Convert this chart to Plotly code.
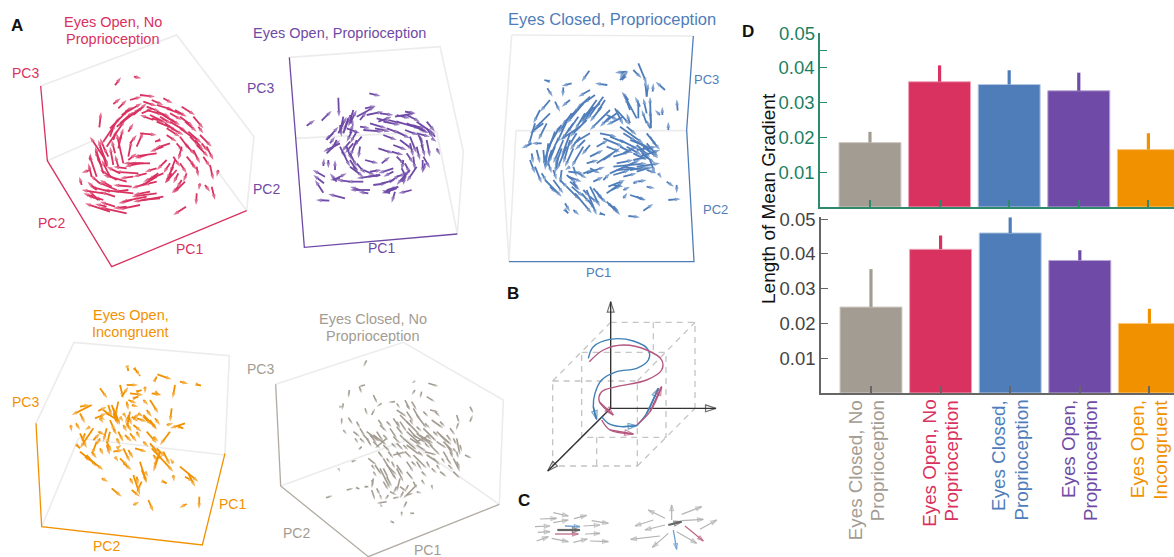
import plotly.graph_objects as go

W, H = 1174, 557
RED, PURPLE, BLUE, ORANGE, GRAY = "#d93160", "#6f4aa6", "#4f7dba", "#f29100", "#a39c92"
FONT = "Liberation Sans"

# Panel D values
categories = ["Eyes Closed, No<br>Proprioception", "Eyes Open, No<br>Proprioception",
              "Eyes Closed,<br>Proprioception", "Eyes Open,<br>Proprioception",
              "Eyes Open,<br>Incongruent"]
cat_colors = [GRAY, RED, BLUE, PURPLE, ORANGE]
edge_colors = ["#cfcac3", "#eea3b8", "#b4c8e2", "#b9a8d6", "#f9c880"]
top_means = [0.0185, 0.0360, 0.0352, 0.0334, 0.0165]
top_upper = [0.0216, 0.0407, 0.0393, 0.0386, 0.0212]
bot_means = [0.0247, 0.0413, 0.0460, 0.0381, 0.0200]
bot_upper = [0.0356, 0.0453, 0.0505, 0.0410, 0.0242]
top_ticks = [0.01, 0.02, 0.03, 0.04, 0.045]
top_labels = ["0.01", "0.02", "0.03", "0.04", ""]
bot_ticks = [0.01, 0.02, 0.03, 0.04, 0.05]
bot_labels = ["0.01", "0.02", "0.03", "0.04", "0.05"]

# Panel A: arrows as (tail x, tail y, head x, head y), in each panel's own units
red_arrows = [
 (345,256,363,232),(402,230,424,235),(298,382,303,336),(340,312,362,295),(355,325,380,300),(390,300,425,290),
 (420,285,465,290),(490,295,518,310),(430,305,470,318),(365,345,425,310),(330,385,385,330),(310,425,360,350),
 (320,440,375,360),(350,380,420,325),(380,355,432,320),(440,330,490,345),(470,315,520,330),(500,325,550,345),
 (545,320,585,345),(450,345,500,370),(490,345,540,375),(510,365,560,395),(470,365,520,385),(540,350,580,380),
 (580,350,610,385),(540,385,590,420),(565,395,605,430),(600,405,635,440),(590,435,625,470),(540,410,570,450),
 (620,440,640,480),(610,470,630,500),(580,450,600,490),(545,440,535,480),(520,470,540,500),(630,495,640,540),
 (655,510,650,530),(635,560,645,600),(615,555,630,575),(600,550,596,570),(590,580,588,615),(558,620,520,645),
 (555,545,520,580),(530,510,495,550),(525,480,510,520),(500,480,470,510),(490,590,400,605),(470,530,420,560),
 (490,520,430,545),(470,580,395,590),(440,590,365,605),(420,615,355,628),(380,640,300,622),(330,635,255,610),
 (310,580,245,570),(350,570,290,545),(380,545,310,525),(415,520,345,515),(450,490,390,490),(510,430,465,445),
 (470,460,400,470),(295,600,265,570),(245,555,238,530),(270,510,245,518),(290,530,268,465),(310,520,285,440),
 (320,500,295,420),(340,495,330,440),(310,470,270,410),(370,490,350,400),(355,445,365,400),(385,470,395,420),
 (410,440,430,395),(420,400,470,405),(385,480,410,460),(430,490,370,490),(330,575,270,560),(400,580,310,570),
 (460,360,420,345),(480,340,530,370),(500,385,540,410),(350,540,300,510),(330,530,305,480),(300,440,325,500),
 (360,370,400,335),(375,335,400,320),(400,345,440,310),(425,340,460,325),(455,300,490,315),(440,320,480,335),
 (470,335,510,350),(510,340,545,360),(525,330,560,350),(480,350,515,372),(515,385,550,405),(495,370,530,395),
 (555,365,590,395),(570,410,600,440),(595,380,610,400),(585,420,610,450),(555,430,585,465),(605,430,625,455),
 (560,470,585,500),(540,490,560,520),(575,490,590,510),(515,520,495,550),(560,520,550,545),(545,540,530,565),
 (535,560,515,580),(510,490,490,520),(480,595,420,600),(450,575,400,585),(440,550,395,565),(470,545,430,555),
 (395,600,355,610),(380,620,340,625),(345,620,300,605),(320,620,285,612),(300,600,260,585),(345,590,300,575),
 (335,560,300,540),(395,560,340,555),(360,520,320,500),(380,505,340,500),(420,490,375,500),(300,550,270,525),
 (290,570,262,545),(270,480,272,460),(275,530,265,490),(300,490,285,450),(315,450,300,415),(345,460,335,420),
 (360,420,370,385),(390,430,410,405),(355,500,345,465),(490,440,450,455),(520,500,500,540),(475,520,445,540),
 (440,465,405,475),(470,505,435,515),(305,500,290,465),(325,470,310,440),(340,420,350,390),(330,410,345,370),
 (385,395,400,370),(455,355,490,365),(500,405,530,425),(530,430,550,455),(480,420,465,425),(535,520,520,550),
 (590,500,595,530),(440,520,400,530),(400,530,360,535),(385,570,340,575),(310,600,280,590),(280,590,250,580),
]
purple_arrows = [
 (358,280,392,288),(265,293,267,350),(215,362,245,332),(170,377,195,360),(285,595,235,582),(238,602,198,600),
 (220,578,195,540),(222,550,190,525),(225,530,188,510),(235,480,235,505),(220,498,222,475),(255,510,255,480),
 (260,545,240,520),(250,540,290,520),(230,460,270,420),(230,420,265,380),(270,430,220,455),(265,400,290,350),
 (280,400,300,345),(300,370,320,330),(320,350,375,320),(345,325,378,318),(350,345,400,335),(390,340,430,345),
 (435,350,495,340),(465,335,497,340),(440,365,510,385),(400,365,450,375),(470,370,530,395),(500,365,550,400),
 (530,365,555,395),(555,410,540,390),(545,415,560,425),(560,445,570,465),(530,420,540,470),(510,410,520,450),
 (480,410,500,460),(450,420,490,450),(520,470,540,505),(518,480,518,520),(490,470,495,510),(465,490,480,520),
 (500,500,470,545),(470,520,440,555),(445,560,400,580),(435,575,425,608),(485,570,445,580),(440,565,395,580),
 (360,570,300,570),(355,580,325,575),(340,545,290,545),(390,525,320,535),(430,505,385,520),(300,480,325,520),
 (270,440,300,500),(300,500,340,530),(310,430,285,460),(320,420,300,470),(330,440,325,475),(345,480,385,490),
 (385,445,430,460),(400,405,440,420),(430,435,470,450),(340,390,400,395),(360,370,410,385),(290,385,330,400),
 (465,525,460,555),(415,575,440,560),(280,350,270,400),(310,330,295,380),(480,375,525,385),(430,515,400,530),
 (440,345,480,355),(470,345,510,365),(490,375,525,395),(510,385,535,400),(415,360,455,370),(380,355,420,365),
 (300,345,310,380),(295,355,280,395),(270,375,275,410),(305,395,290,425),(260,420,245,450),(250,400,225,420),
 (300,425,275,455),(320,395,300,430),(335,410,310,440),(290,440,305,480),(300,460,320,500),(320,490,345,520),
 (340,510,375,525),(355,530,395,525),(440,470,465,495),(470,460,490,490),(455,505,470,535),(440,530,470,520),
 (460,480,455,510),(480,510,460,530),(420,545,450,525),(410,570,445,560),(420,580,395,570),(300,545,260,540),
 (330,570,300,560),(270,535,240,540),(530,385,550,415),(515,435,525,470),(500,440,510,480),(525,490,520,515),
 (480,430,490,470),(425,455,460,465),(395,490,420,470),(385,365,425,350),(330,380,360,385),(375,385,420,395),
 (410,385,450,400),(440,395,480,415),(465,390,505,405),(505,405,520,430),(330,360,350,335),(275,455,290,470),
 (310,500,325,510),(360,515,395,510),(395,550,435,540),(370,555,410,550),(455,545,470,525),(500,400,540,410),
 (240,430,255,410),(300,400,310,370),
]
blue_arrows = [
 (178,244,163,240),(172,265,188,290),(220,262,218,290),(245,250,215,258),(298,212,275,245),(352,255,315,250),
 (410,215,375,218),(390,240,415,212),(430,210,455,235),(445,190,470,250),(470,290,465,240),(488,275,490,250),
 (525,270,497,245),(563,332,560,298),(535,390,535,365),(517,345,517,320),(483,385,480,290),(445,355,445,300),
 (440,355,400,280),(180,300,150,335),(195,305,210,335),(240,300,215,320),(300,270,265,290),(180,340,130,390),
 (160,370,120,400),(135,370,115,440),(125,430,95,445),(155,430,125,430),(210,380,170,450),(195,395,160,490),
 (175,430,165,510),(220,420,190,490),(245,340,205,400),(280,310,230,370),(300,290,250,340),(320,300,270,370),
 (340,290,290,360),(360,330,300,390),(270,380,210,420),(240,400,215,470),(230,440,200,510),(300,400,250,430),
 (380,340,340,370),(400,350,350,375),(380,330,420,375),(120,480,135,520),(135,500,155,550),(165,540,215,590),
 (190,540,220,580),(230,560,270,600),(255,580,305,640),(290,570,320,645),(300,560,330,620),(310,565,340,600),
 (225,610,240,635),(250,630,268,645),(350,605,385,640),(360,615,385,630),(415,648,450,652),(460,632,490,612),
 (535,600,572,597),(400,595,412,578),(420,585,468,600),(440,590,465,602),(530,545,552,560),(560,555,560,580),
 (350,580,400,545),(355,560,405,540),(430,550,450,540),(235,530,275,545),(235,515,280,520),(290,520,345,500),
 (320,490,390,445),(370,500,470,490),(360,520,450,480),(380,510,440,505),(440,500,510,490),(450,470,510,450),
 (440,450,500,440),(390,420,450,450),(430,420,490,450),(470,400,510,450),(390,380,460,430),(340,415,400,440),
 (330,400,380,410),(410,380,440,405),(480,480,495,520),(505,520,515,535),(470,560,495,565),(240,500,225,510),
 (280,570,300,590),(215,510,210,550),(260,330,215,375),(330,310,280,350),(195,440,175,490),(280,440,245,500),
 (290,360,240,410),(205,470,195,520),(250,545,265,570),(300,590,325,610),(460,440,505,475),(420,510,475,500),
 (250,370,215,420),(265,350,230,400),(285,340,255,390),(310,320,275,375),(335,320,300,365),(290,300,260,325),
 (315,285,280,310),(345,300,320,340),(360,350,330,380),(350,345,385,360),(375,325,400,375),(230,365,200,430),
 (205,415,175,480),(215,445,195,500),(240,420,220,490),(250,445,225,500),(185,450,170,500),(160,450,165,500),
 (175,490,185,520),(270,410,240,450),(285,420,255,450),(300,435,275,465),(150,330,130,370),(170,370,145,420),
 (215,375,195,400),(155,520,170,545),(180,560,200,580),(420,420,470,440),(450,430,490,460),(470,430,505,470),
 (455,460,495,490),(480,410,500,440),(360,410,410,430),(400,400,440,425),(410,440,455,465),(450,450,480,480),
 (370,470,420,455),(340,480,370,460),(380,490,430,480),(430,480,480,470),(370,525,420,510),(400,500,460,510),
 (440,515,490,500),(470,510,500,520),(240,545,270,570),(230,525,260,550),(245,560,280,590),(275,580,300,610),
 (295,600,315,630),(320,575,335,600),(280,520,310,510),(300,505,330,520),(355,610,370,625),(370,555,400,560),
 (365,570,395,555),(400,570,420,560),(445,545,470,540),(370,620,390,645),(330,640,345,645),(225,630,235,640),
 (470,290,475,250),(470,340,460,295),(470,370,455,330),(483,370,480,330),(420,330,405,290),(450,320,435,290),
 (415,300,395,275),(405,230,395,240),(510,345,495,330),(480,385,470,360),(400,215,390,235),(420,370,410,340),
 (390,440,430,460),(430,460,470,480),(350,440,390,455),(320,440,355,420),(300,470,340,450),(290,490,325,480),
 (400,460,440,440),(440,435,480,470),(260,400,235,440),(250,500,260,530),(265,520,290,535),(210,540,235,565),
 (190,510,200,540),(340,540,360,520),(310,545,340,530),(330,590,350,610),(400,530,440,520),(140,450,150,490),
 (125,460,130,490),
]
orange_arrows = [
 (383,250,385,258),(403,250,412,262),(418,270,420,273),(472,268,515,283),(540,290,565,296),(590,298,603,302),
 (525,300,518,340),(300,310,322,340),(465,285,470,275),(365,335,385,305),(380,300,415,300),(390,325,430,330),
 (435,305,435,325),(455,325,485,330),(450,345,475,385),(515,370,510,410),(275,360,215,390),(240,365,270,360),
 (212,420,215,440),(228,415,240,435),(240,385,255,415),(355,350,345,395),(335,360,350,400),(320,385,360,410),
 (285,400,320,385),(295,378,320,365),(330,405,345,440),(385,345,410,355),(390,380,380,430),(400,400,420,385),
 (430,390,470,430),(450,405,470,435),(555,415,510,430),(510,440,480,480),(535,425,550,430),(440,440,470,475),
 (375,450,395,470),(400,420,425,440),(320,430,310,470),(280,430,240,490),(270,425,255,435),(240,445,260,490),
 (290,470,275,510),(320,480,330,510),(370,490,390,530),(240,500,310,555),(260,510,290,545),(345,515,355,530),
 (405,490,440,500),(455,490,520,560),(480,500,460,560),(420,530,440,595),(400,570,420,630),(395,615,420,635),
 (335,610,365,635),(445,645,460,680),(400,660,418,650),(540,545,595,590),(565,565,585,605),(555,575,582,590),
 (598,635,597,672),(560,657,538,668),(520,570,522,590),(490,590,500,595),(305,580,325,590),(425,590,410,620),
 (470,520,490,510),(520,535,510,520),(340,385,355,420),(385,395,375,415),(310,375,335,395),(360,520,385,545),
 (340,370,350,410),(345,380,360,420),(325,360,335,395),(385,390,395,420),(395,395,415,410),(410,400,440,410),
 (430,395,455,420),(380,415,395,440),(340,430,350,450),(330,440,320,480),(355,440,370,470),(390,445,410,470),
 (320,470,335,500),(340,500,370,495),(385,495,400,520),(450,475,480,510),(470,490,495,515),(490,500,510,540),
 (465,540,470,520),(370,535,395,555),(410,575,415,600),(425,555,440,590),(300,460,290,480),(295,440,315,450),
 (255,445,245,470),(280,465,300,445),(255,515,275,530),(460,455,475,470),(430,345,445,360),(395,360,415,365),
 (360,300,370,340),(465,320,480,330),(380,350,385,375),(300,400,310,415),(360,395,370,410),(370,385,380,400),
 (415,385,430,395),(350,460,360,480),(370,420,380,440),(410,440,420,460),(430,470,445,485),(300,490,310,510),
 (275,500,290,520),(350,490,365,480),(460,510,475,530),(435,560,445,575),(390,580,400,600),(500,420,520,415),
 (230,480,240,490),(465,400,480,420),(440,375,455,395),(300,395,315,405),(400,340,415,335),(410,320,425,315),
]
gray_arrows = [
 (380,196,370,215),(525,258,515,265),(565,265,595,274),(358,275,365,295),(375,270,355,275),(328,285,325,308),
 (400,300,412,325),(425,325,410,335),(310,325,306,345),(298,335,310,335),(465,320,445,322),(515,320,530,345),
 (495,315,510,345),(545,290,540,310),(525,285,515,300),(560,305,585,320),(690,335,700,355),(690,380,698,360),
 (375,340,382,360),(395,360,405,340),(325,368,338,388),(305,370,305,390),(310,405,320,418),(340,410,360,425),
 (650,360,658,385),(655,385,648,405),(570,345,595,350),(470,345,500,365),(480,360,520,400),(530,360,560,400),
 (575,375,610,400),(500,410,545,450),(520,420,560,445),(530,440,570,420),(490,430,530,465),(380,410,420,440),
 (400,420,440,450),(420,390,440,410),(440,430,405,460),(590,410,635,450),(610,440,640,470),(570,450,600,480),
 (650,430,660,480),(675,480,695,490),(640,490,660,530),(620,490,635,510),(555,470,590,480),(520,480,560,520),
 (500,500,520,530),(430,490,465,550),(420,520,450,580),(385,490,410,510),(460,480,500,470),(400,550,395,580),
 (395,585,405,615),(480,550,470,590),(530,570,490,610),(490,590,480,610),(440,620,410,625),(425,635,420,625),
 (500,620,490,640),(485,650,485,665),(515,655,522,655),(455,680,462,683),(575,570,578,585),(320,585,340,580),
 (258,608,278,602),(350,578,358,582),(295,520,300,530),(335,500,350,495),(360,460,365,455),(375,575,385,575),
 (640,530,660,550),(600,530,620,545),(530,590,545,595),(415,375,430,395),(510,375,520,390),(550,400,590,440),
 (460,370,480,400),(540,420,580,455),(500,450,540,480),(440,510,470,540),(610,470,625,495),(470,520,490,560),
 (505,400,530,430),(515,395,540,420),(530,415,560,440),(545,425,580,445),(510,430,540,450),(530,450,560,470),
 (470,395,490,420),(480,380,500,410),(500,350,520,380),(520,340,540,375),(390,420,410,445),(410,410,430,440),
 (430,450,450,470),(400,440,420,460),(380,430,395,455),(370,420,390,440),(360,400,375,425),(590,440,620,460),
 (600,420,625,445),(620,450,640,480),(640,430,650,450),(560,480,590,500),(580,490,600,510),(530,500,545,525),
 (545,530,560,545),(500,530,520,555),(430,520,445,550),(440,545,455,575),(405,510,425,540),(470,510,490,540),
 (480,575,500,590),(450,590,470,600),(410,580,420,600),(500,600,520,595),(460,610,480,605),(395,555,400,570),
 (430,560,445,585),(495,470,515,490),(470,445,490,465),(460,425,480,445),(450,400,470,430),(650,500,660,520),
 (625,510,640,525),(650,470,655,490),(470,470,485,490),(445,470,460,490),(455,500,465,520),(415,470,430,490),
 (360,430,375,445),(345,430,355,445),(580,410,595,425),(560,420,575,435),(620,420,635,440),(640,460,650,475),
 (660,450,665,470),(630,470,640,490),(605,490,615,505),(590,510,600,525),(560,500,570,520),(575,520,590,535),
 (545,555,555,570),(520,560,530,580),(505,570,495,590),(470,575,460,595),(445,600,435,615),(420,600,425,615),
 (460,540,470,555),(400,530,410,545),(395,510,405,525),(430,420,445,435),(350,380,360,400),(440,380,455,395),
 (470,325,480,340),(500,330,510,345),(550,350,565,365),(585,350,600,365),(600,380,615,395),(630,400,645,420),
 (555,385,570,400),(530,395,545,410),(480,420,495,435),(440,490,450,505),(515,500,530,515),(535,470,550,485),
 (470,380,480,395),(490,450,505,465),(555,445,570,460),(500,380,515,395),(455,445,470,460),
]

# Panel A: box outlines, each as a polyline, bright edges first, then pale edges
red_bright = [[(122,258),(142,482),(335,800),(740,632)]]
red_pale = [[(122,258),(530,105),(762,410),(740,632)],[(142,482),(272,425)],[(650,510),(740,632)]]
purple_bright = [[(118,172),(163,742),(622,702)]]
purple_pale = [[(118,172),(570,140),(640,455),(622,702)],[(135,415),(560,395),(622,702)]]
blue_bright = [[(610,108),(590,390),(612,785),(57,785)]]
blue_pale = [[(65,105),(610,108)],[(65,105),(38,490),(57,785)],[(78,392),(590,392)],[(78,392),(57,785)]]
orange_bright = [[(108,415),(125,725),(607,780),(675,505)]]
orange_pale = [[(108,415),(222,172),(688,212),(675,505)],[(125,725),(235,460)],[(235,460),(675,510)]]
gray_bright = [[(107,268),(122,573),(385,785),(778,628)]]
gray_pale = [[(107,268),(490,142),(790,315),(778,628)],[(122,573),(500,435),(778,628)]]

# Panel B
cube_edges = [[(158,303),(412,303),(412,558),(158,558),(158,303)],[(332,127),(585,127),(585,385)],
              [(245,217),(498,217),(498,472),(245,472),(245,217)],[(158,303),(332,127)],[(412,303),(585,127)],
              [(412,558),(585,385)],[(158,558),(332,385)],[(460,127),(460,220)],[(290,472),(290,558)]]
b_axes = [(332,385,332,65),(332,385,648,385),(332,385,143,573)]
b_blue_curves = [[(265,235),(280,200),(330,178),(400,183),(445,210),(445,240),(410,265),(350,275),(305,300),(285,340),(280,380),(290,418)],
                 [(305,410),(325,430),(365,440),(410,437)],[(410,437),(440,400),(475,325)]]
b_red_curves = [[(268,245),(310,210),(370,195),(440,210),(485,240),(485,270),(440,300),(350,320),(305,335),(298,365),(340,405)],
                [(305,420),(330,450),(400,462)],[(410,435),(450,395),(485,320)]]

# Panel C
c_gray = [(120,717,170,715),(160,698,205,708),(160,728,205,720),(222,716,260,706),(275,722,325,730),(105,740,150,738),
          (113,757,150,755),(110,783,145,770),(155,775,205,785),(220,787,262,777),(250,738,300,735),(255,762,300,760),
          (270,783,325,785),(515,720,515,675),(495,715,445,690),(545,703,605,680),(460,720,405,738),(495,735,435,750),
          (545,722,610,718),(600,748,650,720),(480,768,392,778),(505,760,457,802),(530,755,590,790)]
c_blue = [(195,738,240,740),(520,750,530,808)]
c_red = [(165,762,235,762),(555,738,610,783)]
c_dark = [(172,750,240,750),(505,735,545,725)]

# Panel crops in picture pixels: left, top, width, height; each has units of a third of a pixel
panels = {"red": (0,0,260,280), "purple": (250,0,240,280), "blue": (490,0,240,290),
          "orange": (0,285,260,272), "gray": (240,295,270,262), "bc": (500,280,240,277)}
axis_no = {"red": 3, "purple": 4, "blue": 5, "orange": 6, "gray": 7, "bc": 8}

fig = go.Figure()
annotations = []


def ax(p):
    n = axis_no[p]
    return dict(xaxis=f"x{n}", yaxis=f"y{n}")


def polylines(p, lines, color, width, dash=None, shape="linear"):
    for ln in lines:
        fig.add_trace(go.Scatter(x=[q[0] for q in ln], y=[q[1] for q in ln], mode="lines", cliponaxis=False,
                                 line=dict(color=color, width=width, dash=dash, shape=shape), hoverinfo="skip", **ax(p)))


def arrows(p, segs, color, width=1.6, size=5, symbol="arrow"):
    xs, ys, ss = [], [], []
    for a, b, c, d in segs:
        xs += [a, c, None]
        ys += [b, d, None]
        ss += [0, size, 0]
    fig.add_trace(go.Scatter(x=xs, y=ys, mode="lines+markers", cliponaxis=False, connectgaps=False,
                             line=dict(color=color, width=width),
                             marker=dict(symbol=symbol, size=ss, color=color, angleref="previous",
                                         line=dict(color=color, width=1.2 if "open" in symbol else 0)),
                             hoverinfo="skip", **ax(p)))


def curve(p, pts, color):
    polylines(p, [pts], color, 1.4, shape="spline")
    arrows(p, [(pts[-2][0], pts[-2][1], pts[-1][0], pts[-1][1])], color, width=1.4, size=9, symbol="arrow-open")


def label(p, x, y, text, color, size=14.5):
    n = axis_no[p]
    lines = text.split("<br>")
    for k, line in enumerate(lines):
        yy = y + (k - (len(lines) - 1) / 2) * 51
        annotations.append(dict(x=x, y=yy, xref=f"x{n}", yref=f"y{n}", text=line, showarrow=False, xanchor="center", yanchor="middle",
                                font=dict(family=FONT, size=size, color=color)))


PALE = "#ececec"
for p, pale, bright, arr, col, bc in [
    ("red", red_pale, red_bright, red_arrows, RED, RED),
    ("purple", purple_pale, purple_bright, purple_arrows, PURPLE, PURPLE),
    ("blue", blue_pale, blue_bright, blue_arrows, BLUE, BLUE),
    ("orange", orange_pale, orange_bright, orange_arrows, ORANGE, ORANGE),
    ("gray", gray_pale, gray_bright, gray_arrows, GRAY, "#b0aaa2"),
]:
    polylines(p, pale, PALE, 1.6)
    polylines(p, bright, bc, 1.3)
    arrows(p, arr, col, width=1.8 if p != "gray" else 1.6, size=6 if p != "gray" else 4)

label("red", 340, 92, "Eyes Open, No<br>Proprioception", RED)
label("red", 75, 218, "PC3", RED, 14)
label("red", 155, 668, "PC2", RED, 14)
label("red", 568, 748, "PC1", RED, 14)
label("purple", 267, 100, "Eyes Open, Proprioception", PURPLE)
label("purple", 30, 265, "PC3", PURPLE, 14)
label("purple", 50, 568, "PC2", PURPLE, 14)
label("purple", 393, 745, "PC1", PURPLE, 14)
label("blue", 365, 57, "Eyes Closed, Proprioception", BLUE, 16.5)
label("blue", 648, 238, "PC3", BLUE, 13)
label("blue", 677, 627, "PC2", BLUE, 13)
label("blue", 325, 817, "PC1", BLUE, 13)
label("orange", 392, 115, "Eyes Open,<br>Incongruent", ORANGE)
label("orange", 75, 350, "PC3", ORANGE, 14)
label("orange", 318, 782, "PC2", ORANGE, 14)
label("orange", 697, 656, "PC1", ORANGE, 14)
label("gray", 398, 98, "Eyes Closed, No<br>Proprioception", GRAY)
label("gray", 60, 222, "PC3", GRAY, 14)
label("gray", 168, 715, "PC2", GRAY, 14)
label("gray", 563, 765, "PC1", GRAY, 14)

polylines("bc", cube_edges, "#c4c4c4", 1.3, dash="6px,5px")
arrows("bc", b_axes, "#333333", width=1.4, size=11, symbol="arrow-open")
for c in b_blue_curves:
    curve("bc", c, "#3f7fb5")
for c in b_red_curves:
    curve("bc", c, "#b5567f")
arrows("bc", c_gray, "#b3b3b3", width=1.2, size=6, symbol="arrow-open")
arrows("bc", c_blue, "#6f9fd0", width=1.3, size=6, symbol="arrow-open")
arrows("bc", c_red, "#c06a88", width=1.3, size=6, symbol="arrow-open")
arrows("bc", c_dark, "#666666", width=2.2, size=8, symbol="arrow-open")

# Panel D bars
label_nudge = [-4.5, 0, -0.5, -0.5, -1]
for i, col in enumerate(cat_colors):
    fig.add_trace(go.Bar(x=[i], y=[top_means[i]], width=0.89, marker=dict(color=col, line=dict(color=edge_colors[i], width=1)),
                         error_y=dict(type="data", symmetric=False, array=[top_upper[i]-top_means[i]], arrayminus=[0],
                                      color=col, thickness=3.2, width=0), xaxis="x", yaxis="y"))
    fig.add_trace(go.Bar(x=[i], y=[bot_means[i]], width=0.89, marker=dict(color=col, line=dict(color=edge_colors[i], width=1)),
                         error_y=dict(type="data", symmetric=False, array=[bot_upper[i]-bot_means[i]], arrayminus=[0],
                                      color=col, thickness=3.2, width=0), xaxis="x2", yaxis="y2"))
    for line, off in zip(categories[i].split("<br>"), (-11.3, 11.3)):
        annotations.append(dict(x=i, y=1 - 398 / H, xref="x2", yref="paper", text=line, showarrow=False, textangle=-90,
                                xanchor="center", yanchor="top", xshift=off + label_nudge[i],
                                font=dict(family=FONT, size=18.8, color=col)))

GREEN, GREEN_TXT = "#2f8a6b", "#1c7f5f"
DGRAY, DGRAY_TXT = "#666666", "#444444"
annotations.append(dict(x=817 / W, y=0.05, xref="paper", yref="y", text="0.05", showarrow=False,
                        xanchor="right", yanchor="middle", font=dict(family=FONT, size=18.5, color=GREEN_TXT)))
annotations.append(dict(x=768 / W, y=1 - 199 / H, xref="paper", yref="paper", text="Length of Mean Gradient", showarrow=False,
                        textangle=-90, xanchor="center", yanchor="middle", font=dict(family=FONT, size=19, color="#111111")))
for t, x, y in [("A", 17, 25), ("B", 513, 293), ("C", 524, 500), ("D", 748, 32)]:
    annotations.append(dict(x=x / W, y=1 - y / H, xref="paper", yref="paper", text=f"<b>{t}</b>", showarrow=False,
                            xanchor="center", yanchor="middle", font=dict(family=FONT, size=17, color="#111111")))

layout = dict(
    width=W, height=H, margin=dict(l=0, r=0, t=0, b=0, autoexpand=False), paper_bgcolor="white", plot_bgcolor="rgba(0,0,0,0)",
    showlegend=False, barmode="overlay", annotations=annotations, font=dict(family=FONT),
    xaxis=dict(domain=[820 / W, 1], range=[-0.718, 4.368], tickvals=list(range(5)), ticktext=[""] * 5, ticks="inside", ticklen=7,
               tickcolor=GREEN, tickwidth=1.5, showgrid=False, zeroline=False, showline=True, linecolor=GREEN, linewidth=1.5, anchor="y"),
    yaxis=dict(domain=[1 - 207 / H, 1 - 33 / H], range=[0, 0.05], tickvals=top_ticks, ticktext=top_labels, ticks="inside", ticklen=7,
               tickcolor=GREEN, tickwidth=1.2, tickfont=dict(family=FONT, size=18.5, color=GREEN_TXT), showgrid=False, zeroline=False,
               showline=True, linecolor=GREEN, linewidth=1.5, anchor="x"),
    xaxis2=dict(domain=[821 / W, 1], range=[-0.718, 4.353], tickvals=list(range(5)), ticktext=[""] * 5, ticks="inside", ticklen=7,
                tickcolor=DGRAY, tickwidth=1.5, showgrid=False, zeroline=False, showline=True, linecolor=DGRAY, linewidth=1.5, anchor="y2"),
    yaxis2=dict(domain=[1 - 393 / H, 1 - 217.3 / H], range=[0, 0.0505], tickvals=bot_ticks, ticktext=bot_labels, ticks="inside", ticklen=7,
                tickcolor=DGRAY, tickwidth=1.2, tickfont=dict(family=FONT, size=18.5, color=DGRAY_TXT), showgrid=False, zeroline=False,
                showline=True, linecolor=DGRAY, linewidth=1.5, anchor="x2"),
)
for p, (l, t, w, h) in panels.items():
    n = axis_no[p]
    layout[f"xaxis{n}"] = dict(domain=[l / W, (l + w) / W], range=[0, w * 3], visible=False, anchor=f"y{n}")
    layout[f"yaxis{n}"] = dict(domain=[1 - (t + h) / H, 1 - t / H], range=[h * 3, 0], visible=False, anchor=f"x{n}")
fig.update_layout(**layout)

fig.write_html("out.html", post_script="document.body.style.margin='0';", config={"displayModeBar": False})
